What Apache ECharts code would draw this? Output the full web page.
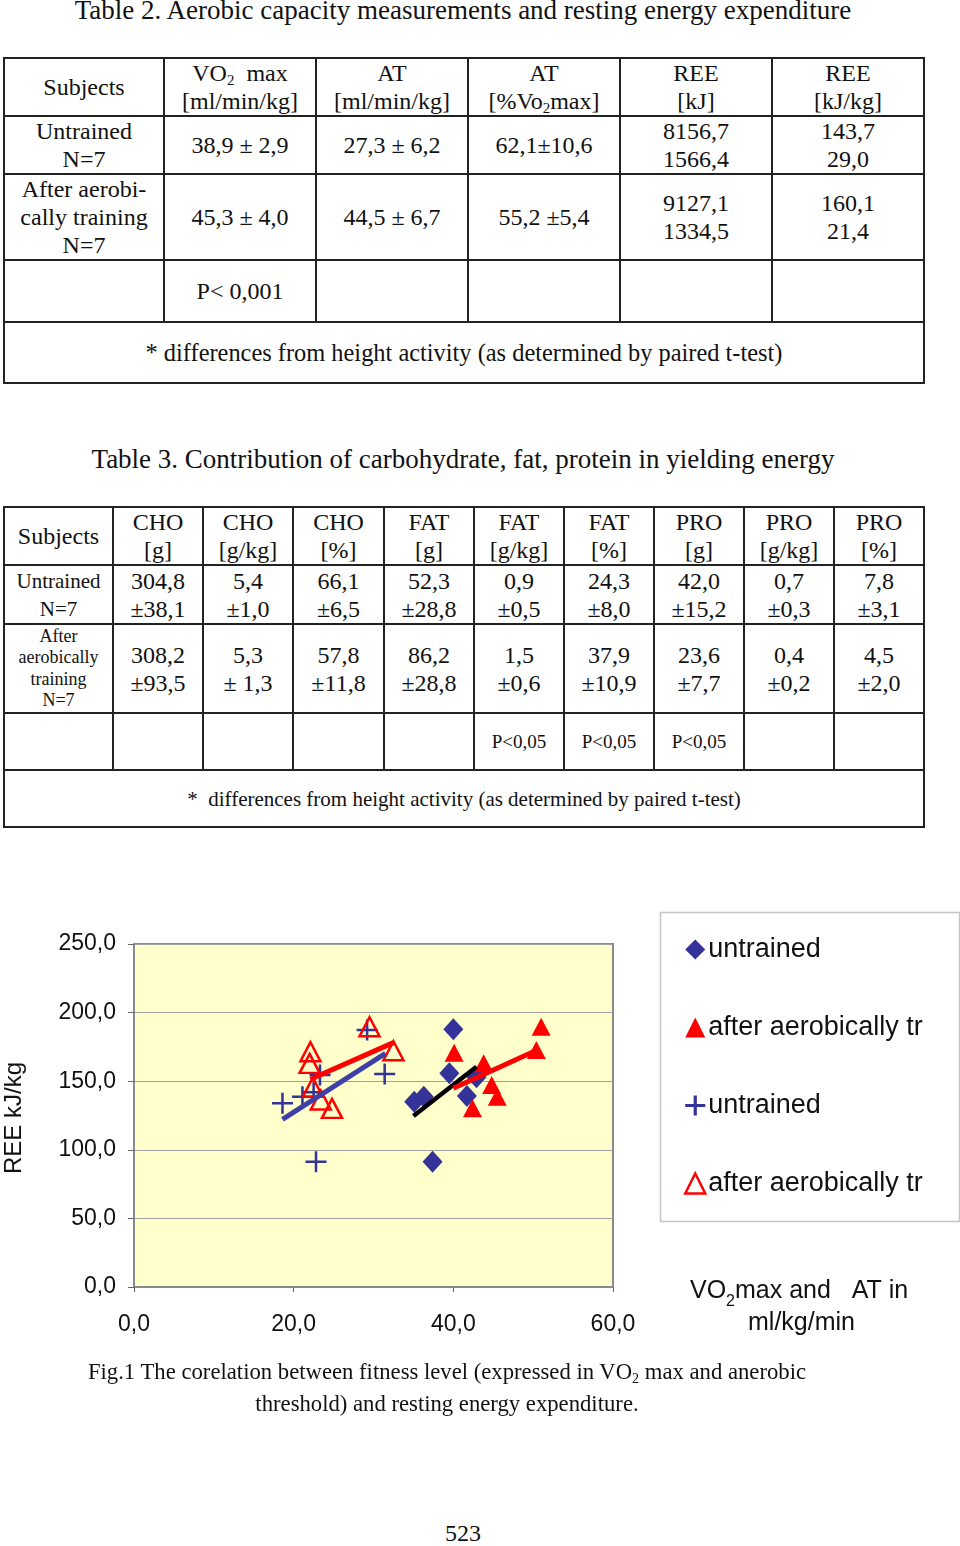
<!DOCTYPE html>
<html>
<head>
<meta charset="utf-8">
<script src="https://cdn.jsdelivr.net/npm/echarts@6/dist/echarts.min.js"></script>
<style>
  html,body{margin:0;padding:0;background:#fff;}
  body{width:960px;height:1546px;position:relative;overflow:hidden;font-family:"Liberation Serif","Times New Roman",serif;color:#111;}
  .title{position:absolute;left:0;width:926px;text-align:center;font-size:27px;white-space:nowrap;}
  table{position:absolute;border-collapse:collapse;table-layout:fixed;}
  td{border:2px solid #222;text-align:center;vertical-align:middle;padding:0;line-height:28px;white-space:nowrap;}
  sub{font-size:0.62em;vertical-align:-0.3em;line-height:0;}
  #t2 td{font-size:24px;}
  #t2 td.foot{font-size:24.4px;}
  #t3 td{font-size:24px;}
  #t3 td.lab1{font-size:21px;line-height:28px;}
  #t3 td.lab2{font-size:18px;line-height:21.5px;}
  #t3 td.p{font-size:19px;}
  #t3 td.foot{font-size:21px;}
  #chart{position:absolute;left:0;top:880px;width:960px;height:480px;}
  .cap{position:absolute;left:0;width:894px;text-align:center;font-size:22.7px;white-space:nowrap;}
</style>
</head>
<body>
<div class="title" style="top:-5px;">Table 2. Aerobic capacity measurements and resting energy expenditure</div>
<table id="t2" style="left:3px;top:57px;width:922px;">
  <colgroup><col style="width:160px"><col style="width:152px"><col style="width:152px"><col style="width:152px"><col style="width:152px"><col style="width:152px"></colgroup>
  <tr style="height:54px"><td>Subjects</td><td>VO<sub>2</sub>&nbsp; max<br>[ml/min/kg]</td><td>AT<br>[ml/min/kg]</td><td>AT<br>[%Vo<sub>2</sub>max]</td><td>REE<br>[kJ]</td><td>REE<br>[kJ/kg]</td></tr>
  <tr style="height:58px"><td>Untrained<br>N=7</td><td>38,9 ± 2,9</td><td>27,3 ± 6,2</td><td>62,1±10,6</td><td>8156,7<br>1566,4</td><td>143,7<br>29,0</td></tr>
  <tr style="height:86px"><td>After aerobi-<br>cally training<br>N=7</td><td>45,3 ± 4,0</td><td>44,5 ± 6,7</td><td>55,2 ±5,4</td><td>9127,1<br>1334,5</td><td>160,1<br>21,4</td></tr>
  <tr style="height:62px"><td></td><td>P&lt; 0,001</td><td></td><td></td><td></td><td></td></tr>
  <tr style="height:61px"><td colspan="6" class="foot">* differences from height activity (as determined by paired t-test)</td></tr>
</table>

<div class="title" style="top:444px;">Table 3. Contribution of carbohydrate, fat, protein in yielding energy</div>
<table id="t3" style="left:3px;top:506px;width:922px;">
  <colgroup><col style="width:109px"><col style="width:90px"><col style="width:90px"><col style="width:91px"><col style="width:90px"><col style="width:90px"><col style="width:90px"><col style="width:90px"><col style="width:90px"><col style="width:90px"></colgroup>
  <tr style="height:56px"><td>Subjects</td><td>CHO<br>[g]</td><td>CHO<br>[g/kg]</td><td>CHO<br>[%]</td><td>FAT<br>[g]</td><td>FAT<br>[g/kg]</td><td>FAT<br>[%]</td><td>PRO<br>[g]</td><td>PRO<br>[g/kg]</td><td>PRO<br>[%]</td></tr>
  <tr style="height:59px"><td class="lab1">Untrained<br>N=7</td><td>304,8<br>±38,1</td><td>5,4<br>±1,0</td><td>66,1<br>±6,5</td><td>52,3<br>±28,8</td><td>0,9<br>±0,5</td><td>24,3<br>±8,0</td><td>42,0<br>±15,2</td><td>0,7<br>±0,3</td><td>7,8<br>±3,1</td></tr>
  <tr style="height:89px"><td class="lab2">After<br>aerobically<br>training<br>N=7</td><td>308,2<br>±93,5</td><td>5,3<br>± 1,3</td><td>57,8<br>±11,8</td><td>86,2<br>±28,8</td><td>1,5<br>±0,6</td><td>37,9<br>±10,9</td><td>23,6<br>±7,7</td><td>0,4<br>±0,2</td><td>4,5<br>±2,0</td></tr>
  <tr style="height:57px"><td></td><td></td><td></td><td></td><td></td><td class="p">P&lt;0,05</td><td class="p">P&lt;0,05</td><td class="p">P&lt;0,05</td><td></td><td></td></tr>
  <tr style="height:57px"><td colspan="10" class="foot">*&nbsp; differences from height activity (as determined by paired t-test)</td></tr>
</table>

<div id="chart"></div>

<div class="cap" style="top:1359px;">Fig.1 The corelation between fitness level (expressed in VO<sub>2</sub> max and anerobic</div>
<div class="cap" style="top:1391px;">threshold) and resting energy expenditure.</div>
<div class="cap" style="top:1520px;left:17px;width:892px;font-size:24px;">523</div>

<script>
// ---- data ----
const xTicks = [0, 20, 40, 60];
const yTicks = [0, 50, 100, 150, 200, 250];
const seriesNames = ['untrained', 'after aerobically tr', 'untrained ', 'after aerobically tr '];

// VO2max untrained (diamonds)
const vo2UntrainedX = [40.0, 39.5, 35.1, 36.3, 41.7, 37.4, 42.9];
const vo2UntrainedY = [187.8, 155.8, 135.0, 138.7, 139.2, 91.3, 152.8];
// VO2max after training (filled triangles)
const vo2TrainedX = [51.0, 50.4, 40.1, 43.8, 44.8, 45.5, 42.4];
const vo2TrainedY = [189.7, 172.7, 170.8, 163.0, 147.2, 138.7, 130.2];
// AT untrained (crosses)
const atUntrainedX = [18.6, 21.1, 23.3, 29.2, 31.4, 22.8, 22.5];
const atUntrainedY = [133.9, 138.7, 154.5, 187.3, 155.2, 91.3, 142.0];
// AT after training (open triangles)
const atTrainedX = [22.1, 22.0, 22.4, 23.4, 24.8, 29.5, 32.5];
const atTrainedY = [171.5, 163.0, 145.6, 136.3, 130.2, 189.7, 172.2];

// linear trend lines (end points)
const atUntrainedTrendX = [18.6, 31.5];
const atUntrainedTrendY = [122.2, 170.3];
const atTrainedTrendX = [22.1, 32.5];
const atTrainedTrendY = [151.4, 178.1];
const vo2UntrainedTrendX = [35.0, 42.9];
const vo2UntrainedTrendY = [124.6, 160.6];
const vo2TrainedTrendX = [40.0, 50.5];
const vo2TrainedTrendY = [144.8, 172.7];

function zip(xs, ys){ return xs.map((x,i)=>[x, ys[i]]); }
function fmt(v){ return v.toFixed(1).replace('.', ','); }

const BLUE = '#333399';
const RED = '#ff0000';
const CROSS = 'path://M44,0 H56 V44 H100 V56 H56 V100 H44 V56 H0 V44 H44 Z';
const CROSS_ICON = 'path://M42,0 H58 V42 H100 V58 H58 V100 H42 V58 H0 V42 H42 Z';
const SANS = '"Liberation Sans", Arial, sans-serif';

const chart = echarts.init(document.getElementById('chart'), null, {renderer:'canvas'});
const option = {
  animation: false,
  grid: {left:134, right:347, top:64, bottom:480-407, show:true, backgroundColor:'#FFFFCC', borderColor:'#8a8a8a', borderWidth:2},
  xAxis: {
    type:'value', min:xTicks[0], max:xTicks[xTicks.length-1], interval:20,
    axisLine:{show:true, onZero:false, lineStyle:{color:'#8a8a8a', width:2}},
    axisTick:{show:true, length:5, lineStyle:{color:'#666', width:1}},
    splitLine:{show:false},
    axisLabel:{formatter:fmt, fontSize:23, color:'#111', fontFamily:SANS, margin:26}
  },
  yAxis: {
    type:'value', min:yTicks[0], max:yTicks[yTicks.length-1], interval:50,
    axisLine:{show:true, onZero:false, lineStyle:{color:'#8a8a8a', width:2}},
    axisTick:{show:true, length:6, lineStyle:{color:'#666', width:1}},
    splitLine:{show:true, lineStyle:{color:'#a0a0a0', width:1}},
    axisLabel:{formatter:fmt, fontSize:23, color:'#111', fontFamily:SANS, margin:18}
  },
  legend: {
    orient:'vertical', left:684, top:56, padding:0,
    itemWidth:20, itemHeight:20, itemGap:51,
    textStyle:{fontSize:27, color:'#111', fontFamily:SANS, padding:[0,0,0,-2]},
    data:[
      {name:seriesNames[0], icon:'diamond'},
      {name:seriesNames[1], icon:'triangle'},
      {name:seriesNames[2], icon:CROSS_ICON},
      {name:seriesNames[3], icon:'triangle', itemStyle:{color:'#fff', borderColor:RED, borderWidth:2.5}}
    ]
  },
  graphic: [
    {type:'rect', left:658, top:30, shape:{width:299, height:309}, style:{fill:'none', stroke:'#c4c4c4', lineWidth:1.5}, z:-1},
    {type:'text', left:2, top:182, rotation:Math.PI/2, style:{text:'REE kJ/kg', font:'24px '+SANS, fill:'#111'}},
    {type:'text', left:690, top:399, style:{
      text:'{n|VO}{s|2}{n|max and   AT in}', fill:'#111',
      rich:{n:{fontSize:25, fontFamily:SANS, lineHeight:28, verticalAlign:'bottom'}, s:{fontSize:16, fontFamily:SANS, lineHeight:28, verticalAlign:'bottom', padding:[0,0,-6,0]}}
    }},
    {type:'text', left:748, top:431, style:{text:'ml/kg/min', font:'25px '+SANS, fill:'#111'}}
  ],
  series: [
    {name:seriesNames[0], type:'scatter', data:zip(vo2UntrainedX, vo2UntrainedY), symbol:'diamond', symbolSize:[20,22], itemStyle:{color:BLUE, opacity:1}, z:2},
    {name:seriesNames[1], type:'scatter', data:zip(vo2TrainedX, vo2TrainedY), symbol:'triangle', symbolSize:[19,18], itemStyle:{color:RED, opacity:1}, z:2},
    {name:seriesNames[2], type:'scatter', data:zip(atUntrainedX, atUntrainedY), symbol:CROSS, symbolSize:21, itemStyle:{color:BLUE, opacity:1}, z:2},
    {name:seriesNames[3], type:'scatter', data:zip(atTrainedX, atTrainedY), symbol:'triangle', symbolSize:[20,19], itemStyle:{color:'transparent', borderColor:RED, borderWidth:2.5, opacity:1}, z:2},
    {type:'line', data:zip(atUntrainedTrendX, atUntrainedTrendY), symbol:'none', lineStyle:{color:'#3f3fa8', width:5}, z:3, silent:true},
    {type:'line', data:zip(atTrainedTrendX, atTrainedTrendY), symbol:'none', lineStyle:{color:RED, width:5}, z:3, silent:true},
    {type:'line', data:zip(vo2UntrainedTrendX, vo2UntrainedTrendY), symbol:'none', lineStyle:{color:'#000', width:4.5}, z:3, silent:true},
    {type:'line', data:zip(vo2TrainedTrendX, vo2TrainedTrendY), symbol:'none', lineStyle:{color:RED, width:5}, z:3, silent:true}
  ]
};
chart.setOption(option);
</script>
</body>
</html>
